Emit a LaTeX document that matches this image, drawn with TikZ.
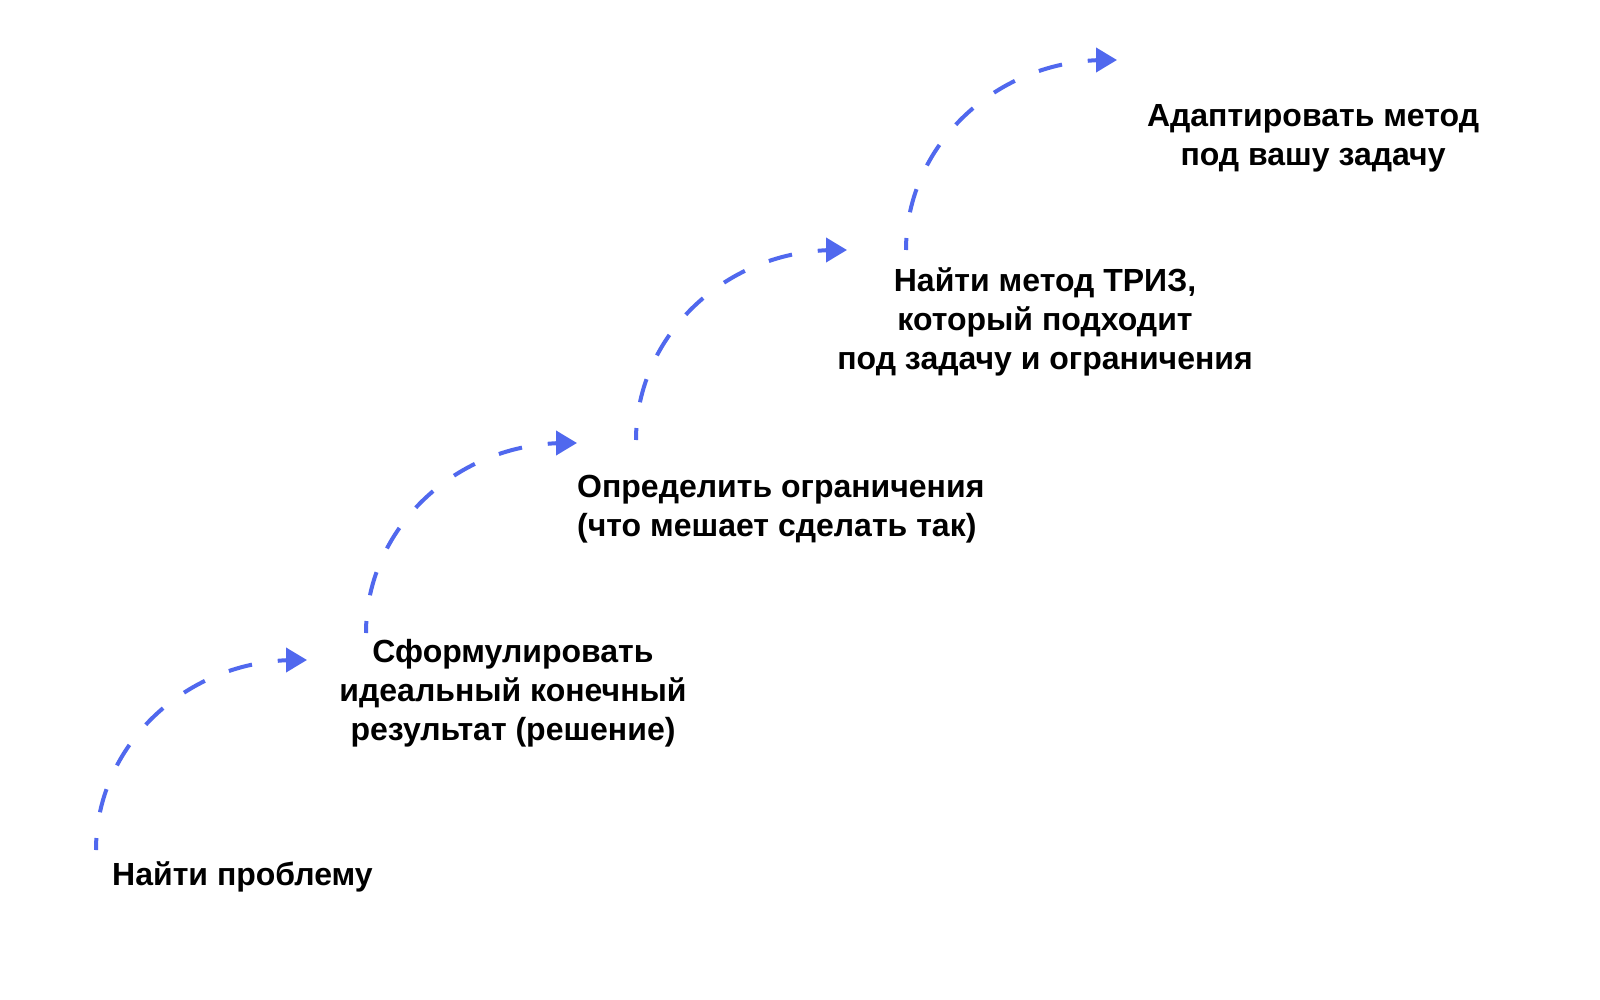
\documentclass[tikz,border=0pt]{standalone}
\usepackage{fontspec}
\setmainfont{Liberation Sans}
\usetikzlibrary{arrows.meta,calc}
\definecolor{flowblue}{RGB}{80,104,238}
\tikzset{
  steptext/.style={inner sep=0pt, font=\fontsize{32}{39}\selectfont\bfseries, text=black},
  flowarc/.style={draw=flowblue, line width=4pt, dash pattern=on 24pt off 26pt, dash phase=12pt,
    -{Triangle[length=21pt,width=24pt]}}
}
\begin{document}
\begin{tikzpicture}[x=1pt,y=-1pt]
\useasboundingbox[fill=white] (0,0) rectangle (1600,1000);
% texts (base anchor = baseline of the last line)
\node[steptext, anchor=base west] (t1) at (112,885) {Найти проблему};
\node[steptext, anchor=base, align=center] (t2) at (513,740) {Сформулировать\\идеальный конечный\\результат (решение)};
\node[steptext, anchor=base west, align=left] (t3) at (577,536) {Определить ограничения\\(что мешает сделать так)};
\node[steptext, anchor=base, align=center] (t4) at (1045,369) {Найти метод ТРИЗ,\\который подходит\\под задачу и ограничения};
\node[steptext, anchor=base, align=center] (t5) at (1313,166) {Адаптировать метод\\под вашу задачу};
% connector ends
\coordinate (s1) at (96,850);   \coordinate (e1) at (307,660);
\coordinate (s2) at (366,633);  \coordinate (e2) at (577,443);
\coordinate (s3) at (636,440);  \coordinate (e3) at (847,250);
\coordinate (s4) at (906,250);  \coordinate (e4) at (1117,60);
\draw[flowarc] (s1) .. controls ($(s1)+(0,-105)$) and ($(s1)+(90,-190)$) .. ($(s1)+(200,-190)$) -- (e1);
\draw[flowarc] (s2) .. controls ($(s2)+(0,-105)$) and ($(s2)+(90,-190)$) .. ($(s2)+(200,-190)$) -- (e2);
\draw[flowarc] (s3) .. controls ($(s3)+(0,-105)$) and ($(s3)+(90,-190)$) .. ($(s3)+(200,-190)$) -- (e3);
\draw[flowarc] (s4) .. controls ($(s4)+(0,-105)$) and ($(s4)+(90,-190)$) .. ($(s4)+(200,-190)$) -- (e4);
\end{tikzpicture}
\end{document}
